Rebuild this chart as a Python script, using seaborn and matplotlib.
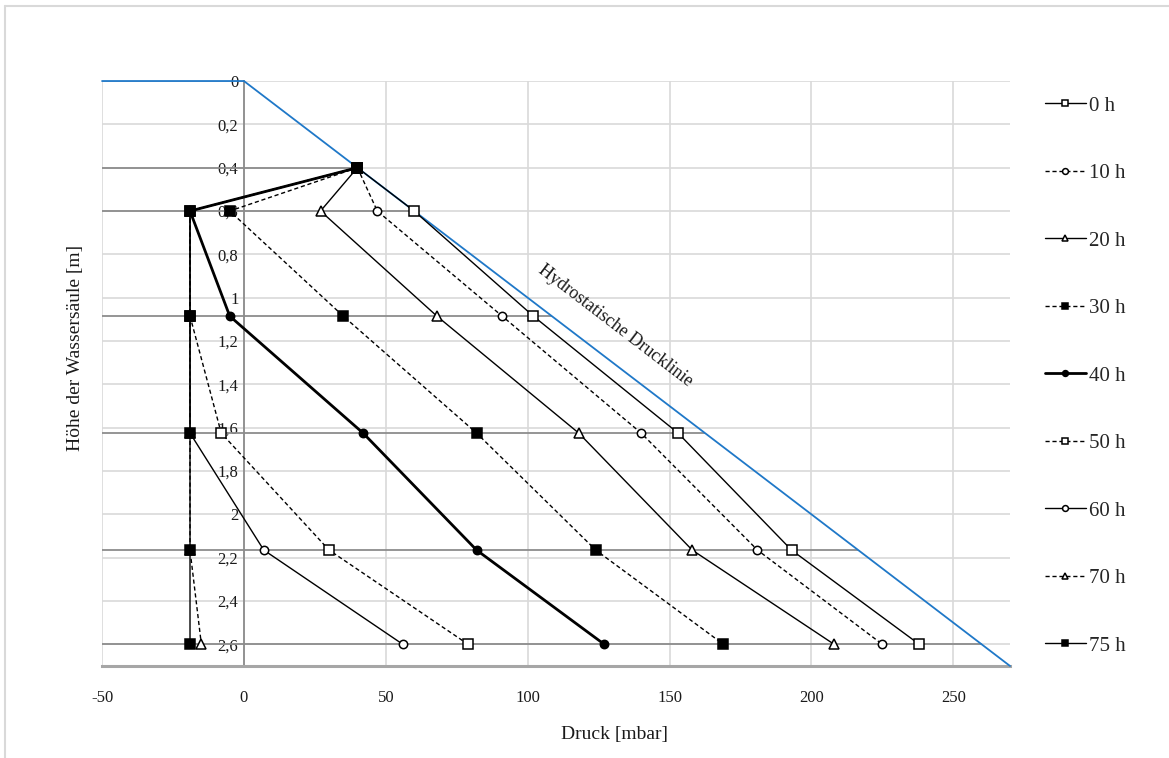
import matplotlib
matplotlib.use("Agg")
import matplotlib.pyplot as plt
import numpy as np
import seaborn as sns

# Messpunkte (Höhe der Wassersäule in m)
depths = [0.4, 0.6, 1.085, 1.625, 2.165, 2.6]

# Druck [mbar] je Messzeitpunkt
p_0h = [40, 60, 102, 153, 193, 238]
p_10h = [40, 47, 91, 140, 181, 225]
p_20h = [40, 27, 68, 118, 158, 208]
p_30h = [40, -5, 35, 82, 124, 169]
p_40h = [40, -19, -5, 42, 82, 127]
p_50h = [40, -19, -19, -8, 30, 79]
p_60h = [40, -19, -19, -19, 7, 56]
p_70h = [40, -19, -19, -19, -19, -15]
p_75h = [40, -19, -19, -19, -19, -19]

labels = ["0 h", "10 h", "20 h", "30 h", "40 h", "50 h", "60 h", "70 h", "75 h"]

# hydrostatische Drucklinie
hydro_depth = [0, 0, 2.7]
hydro_pressure = [-50, 0, 270]

x_ticks = [-50, 0, 50, 100, 150, 200, 250]
y_ticks = [0, 0.2, 0.4, 0.6, 0.8, 1, 1.2, 1.4, 1.6, 1.8, 2, 2.2, 2.4, 2.6]

sns.set_style("white")
plt.rcParams["font.family"] = ["Liberation Serif", "DejaVu Serif"]

fig = plt.figure(figsize=(11.69, 7.58), dpi=100)
ax = fig.add_axes([0.0873, 0.1214, 0.7767, 0.7717])

# Rahmen um das Diagramm
fig.add_artist(plt.Line2D([5 / 1169, 5 / 1169], [0, 1 - 6 / 758], color="#d9d9d9", lw=1.5))
fig.add_artist(plt.Line2D([5 / 1169, 1], [1 - 6 / 758, 1 - 6 / 758], color="#d9d9d9", lw=1.5))

# dunkle Linien auf Messhöhe bis zur hydrostatischen Linie
line_end = np.interp(depths, hydro_depth[1:], hydro_pressure[1:])
ax.hlines(depths, -50, line_end, color="#8c8c8c", lw=1.3, zorder=2)

sns.lineplot(x=hydro_pressure, y=hydro_depth, sort=False, estimator=None,
             color="#1f78c8", lw=1.3, ax=ax, zorder=3, clip_on=False)

solid = "-"
dashed = (0, (3, 2))
styles = [
    (p_0h, solid, "s", "white", 1.0),
    (p_10h, dashed, "o", "white", 1.0),
    (p_20h, solid, "^", "white", 1.0),
    (p_30h, dashed, "s", "black", 1.0),
    (p_40h, solid, "o", "black", 2.0),
    (p_50h, dashed, "s", "white", 1.0),
    (p_60h, solid, "o", "white", 1.0),
    (p_70h, dashed, "^", "white", 1.0),
    (p_75h, solid, "s", "black", 1.0),
]

handles = []
for (vals, ls, mk, fc, lw), lab in zip(styles, labels):
    sns.lineplot(x=vals, y=depths, sort=False, estimator=None, ax=ax,
                 color="black", lw=lw, linestyle=ls, marker=mk,
                 markersize=6.6 if mk != "o" else 6, markerfacecolor=fc,
                 markeredgecolor="black", markeredgewidth=1.1, zorder=4)
    handles.append(ax.lines[-1])
    ax.lines[-1].set_label(lab)

ax.set_xlim(-50, 270)
ax.set_ylim(2.7, 0)
ax.set_xticks(x_ticks)
ax.set_yticks(y_ticks)
ax.set_xticklabels([str(v) for v in x_ticks])
ax.set_yticklabels([("%g" % v).replace(".", ",") for v in y_ticks])
ax.tick_params(axis="both", length=0, labelsize=12, labelcolor="#1a1a1a")
ax.tick_params(axis="x", pad=17.5)
ax.tick_params(axis="y", pad=4)

ax.grid(True, color="#d9d9d9", lw=1.2, zorder=0)
ax.set_axisbelow(True)
for s in ["top", "right"]:
    ax.spines[s].set_visible(False)
ax.spines["left"].set_position(("data", 0))
ax.spines["left"].set_color("#8c8c8c")
ax.spines["left"].set_linewidth(1.3)
ax.spines["bottom"].set_color("#a6a6a6")
ax.spines["bottom"].set_linewidth(2.2)

ax.set_xlabel("Druck [mbar]", fontsize=14, color="#1a1a1a")
ax.xaxis.set_label_coords(0.564, -0.103)
ax.set_ylabel("Höhe der Wassersäule [m]", fontsize=14, color="#1a1a1a", va="center")
ax.yaxis.set_label_coords(-0.029, 0.544)

ax.text(131, 1.13, "Hydrostatische Drucklinie", rotation=-37.4, fontsize=13,
        ha="center", va="center", color="#1a1a1a", rotation_mode="anchor")

leg = ax.legend(handles=handles, loc="upper left", bbox_to_anchor=(0.894, 0.8733),
                bbox_transform=fig.transFigure, frameon=False, fontsize=15,
                labelspacing=2.30, handlelength=1.95, handletextpad=0.15,
                borderpad=0, borderaxespad=0, markerscale=0.7)

fig.savefig("out.png", dpi=100)
